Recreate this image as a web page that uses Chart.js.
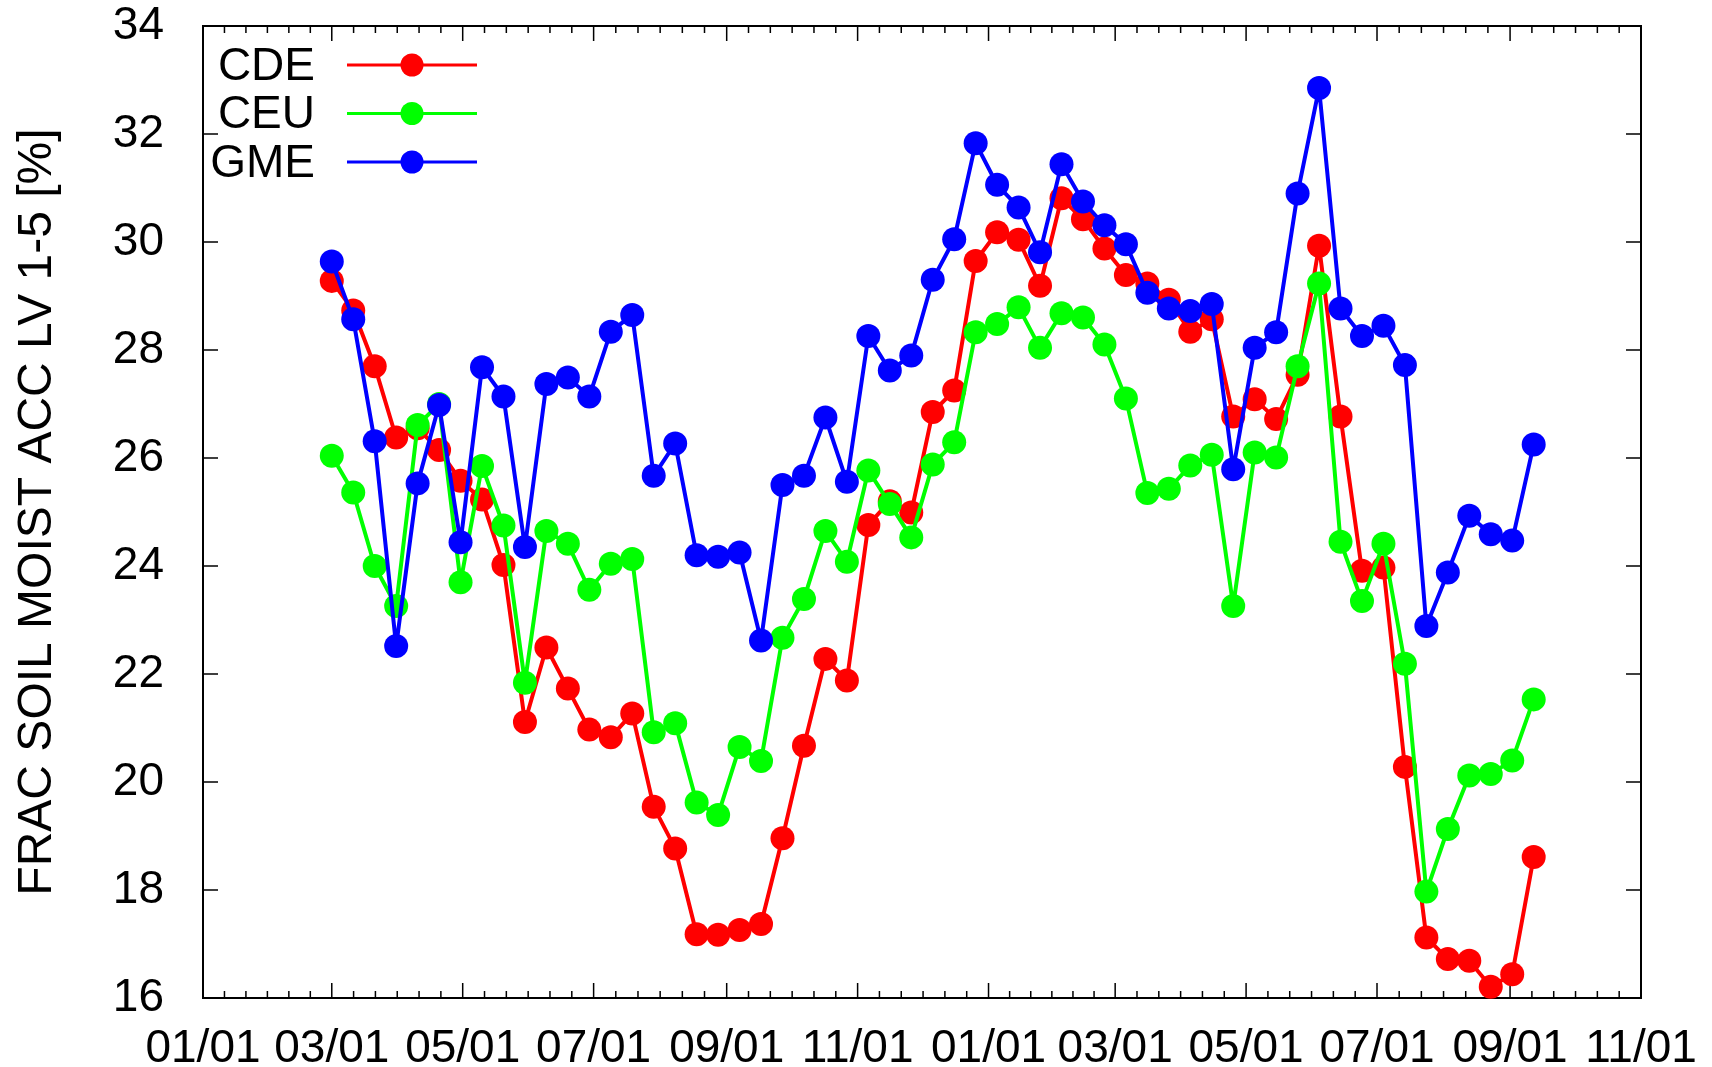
<!DOCTYPE html>
<html>
<head>
<meta charset="utf-8">
<script src="https://cdn.jsdelivr.net/npm/chart.js@4.4.1/dist/chart.umd.min.js"></script>
<style>
    html, body { margin: 0; padding: 0; background: #fff; }
</style>
</head>
<body>
<canvas id="soilChart" width="1712" height="1067"></canvas>
<script>
// 観測日（1月1日からの日数）
const days = [60, 70, 80, 90, 100, 110, 120, 130, 140, 150,
    160, 170, 180, 190, 200, 210, 220, 230, 240, 250,
    260, 270, 280, 290, 300, 310, 320, 330, 340, 350,
    360, 370, 380, 390, 400, 410, 420, 430, 440, 450,
    460, 470, 480, 490, 500, 510, 520, 530, 540, 550,
    560, 570, 580, 590, 600, 610, 620];

// 目盛り（月初）
const tickDays = [0, 60, 121, 182, 244, 305, 366, 425, 486, 547, 609, 670];
const tickLabels = ['01/01', '03/01', '05/01', '07/01', '09/01', '11/01',
    '01/01', '03/01', '05/01', '07/01', '09/01', '11/01'];

// 各モデルの値 [%]
const cde = [29.28, 28.73, 27.70, 26.38, 26.55, 26.15, 25.58, 25.23, 24.02, 21.11,
    22.49, 21.73, 20.97, 20.83, 21.27, 19.54, 18.77, 17.18, 17.17, 17.26,
    17.37, 18.96, 20.67, 22.28, 21.88, 24.76, 25.20, 24.99, 26.85, 27.25,
    29.65, 30.18, 30.04, 29.19, 30.81, 30.42, 29.88, 29.39, 29.23, 28.93,
    28.34, 28.57, 26.77, 27.09, 26.72, 27.54, 29.93, 26.77, 23.91, 23.97,
    20.28, 17.12, 16.72, 16.69, 16.21, 16.44, 18.61];
const ceu = [26.04, 25.36, 24.00, 23.26, 26.61, 27.00, 23.70, 25.85, 24.75, 21.84,
    24.65, 24.41, 23.56, 24.04, 24.13, 20.92, 21.09, 19.62, 19.39, 20.65,
    20.39, 22.67, 23.39, 24.65, 24.08, 25.77, 25.15, 24.53, 25.88, 26.29,
    28.33, 28.48, 28.79, 28.04, 28.68, 28.60, 28.10, 27.10, 25.35, 25.43,
    25.86, 26.06, 23.26, 26.10, 26.01, 27.70, 29.23, 24.45, 23.35, 24.41,
    22.19, 17.97, 19.13, 20.12, 20.15, 20.40, 21.53];
const gme = [29.64, 28.57, 26.31, 22.52, 25.53, 26.98, 24.44, 27.68, 27.14, 24.35,
    27.37, 27.49, 27.14, 28.34, 28.65, 25.67, 26.27, 24.20, 24.17, 24.25,
    22.62, 25.50, 25.67, 26.75, 25.56, 28.26, 27.62, 27.90, 29.30, 30.05,
    31.83, 31.06, 30.64, 29.81, 31.44, 30.75, 30.31, 29.96, 29.06, 28.77,
    28.72, 28.85, 25.79, 28.04, 28.33, 30.90, 32.85, 28.77, 28.26, 28.45,
    27.72, 22.89, 23.88, 24.93, 24.59, 24.47, 26.25];

const fontFamily = '"Liberation Sans", Arial, Helvetica, sans-serif';
const bigFont = { family: fontFamily, size: 46 };

function toPoints(values) {
    return values.map((v, i) => ({ x: days[i], y: v }));
}

function series(label, values, color, order) {
    return {
        label: label,
        data: toPoints(values),
        borderColor: color,
        backgroundColor: color,
        borderWidth: 4,
        borderJoinStyle: 'round',
        borderCapStyle: 'round',
        pointRadius: 12,
        pointHoverRadius: 12,
        pointBorderWidth: 0,
        tension: 0,
        clip: false,
        order: order
    };
}

// 枠と内向きの目盛り
const frameTicks = {
    id: 'frameTicks',
    beforeDatasetsDraw(chart) {
        const { ctx, chartArea: a, scales: { x, y } } = chart;
        ctx.save();
        ctx.strokeStyle = '#000';
        ctx.lineWidth = 1.5;
        ctx.beginPath();
        y.ticks.forEach(t => {
            const py = y.getPixelForValue(t.value);
            ctx.moveTo(a.left, py);
            ctx.lineTo(a.left + 15, py);
            ctx.moveTo(a.right, py);
            ctx.lineTo(a.right - 15, py);
        });
        tickDays.forEach((d, i) => {
            const px = x.getPixelForValue(d);
            ctx.moveTo(px, a.bottom);
            ctx.lineTo(px, a.bottom - 15);
            ctx.moveTo(px, a.top);
            ctx.lineTo(px, a.top + 15);
            if (i < tickDays.length - 1) {
                const step = (tickDays[i + 1] - d) / 6;
                for (let k = 1; k < 6; k++) {
                    const mx = x.getPixelForValue(d + step * k);
                    ctx.moveTo(mx, a.bottom);
                    ctx.lineTo(mx, a.bottom - 7);
                    ctx.moveTo(mx, a.top);
                    ctx.lineTo(mx, a.top + 7);
                }
            }
        });
        ctx.stroke();
        ctx.lineWidth = 2;
        ctx.strokeRect(a.left, a.top, a.right - a.left, a.bottom - a.top);
        ctx.restore();
    }
};

// 凡例（左上）
const insideLegend = {
    id: 'insideLegend',
    afterDatasetsDraw(chart) {
        const { ctx, chartArea: a } = chart;
        const sets = chart.data.datasets;
        ctx.save();
        ctx.font = '46px ' + fontFamily;
        ctx.textAlign = 'right';
        ctx.textBaseline = 'middle';
        sets.forEach((ds, i) => {
            const rowY = a.top + 39 + i * 48.5;
            ctx.fillStyle = '#000';
            ctx.fillText(ds.label, a.left + 112, rowY + 2);
            ctx.strokeStyle = ds.borderColor;
            ctx.lineWidth = 3;
            ctx.beginPath();
            ctx.moveTo(a.left + 144, rowY);
            ctx.lineTo(a.left + 274, rowY);
            ctx.stroke();
            ctx.fillStyle = ds.borderColor;
            ctx.beginPath();
            ctx.arc(a.left + 209, rowY, 11.5, 0, Math.PI * 2);
            ctx.fill();
        });
        ctx.restore();
    }
};

const soilChart = new Chart(
    document.getElementById('soilChart'),
    {
        type: 'line',
        data: {
            datasets: [
                series('CDE', cde, '#ff0000', 3),
                series('CEU', ceu, '#00ff00', 2),
                series('GME', gme, '#0000ff', 1)
            ]
        },
        options: {
            responsive: false,
            animation: false,
            layout: { padding: { top: 26, right: 71, left: 0, bottom: 0 } },
            plugins: {
                legend: { display: false },
                tooltip: { enabled: false }
            },
            scales: {
                x: {
                    type: 'linear',
                    min: 0,
                    max: 670,
                    afterBuildTicks: scale => {
                        scale.ticks = tickDays.map(v => ({ value: v }));
                    },
                    afterFit: scale => {
                        scale.height = 69;
                        scale.paddingLeft = 0;
                        scale.paddingRight = 0;
                    },
                    grid: { display: false },
                    border: { display: false },
                    ticks: {
                        autoSkip: false,
                        maxRotation: 0,
                        padding: 16,
                        color: '#000',
                        font: bigFont,
                        callback: (value, index) => tickLabels[index]
                    }
                },
                y: {
                    min: 16,
                    max: 34,
                    afterFit: scale => {
                        scale.width = 203;
                        scale.paddingTop = 0;
                        scale.paddingBottom = 0;
                    },
                    grid: { display: false },
                    border: { display: false },
                    ticks: {
                        stepSize: 2,
                        padding: 31,
                        color: '#000',
                        font: { family: fontFamily, size: 46, lineHeight: 1 }
                    },
                    title: {
                        display: true,
                        text: 'FRAC SOIL MOIST ACC LV 1-5 [%]',
                        color: '#000',
                        font: { family: fontFamily, size: 48 },
                        padding: { top: 9, bottom: 0 }
                    }
                }
            }
        },
        plugins: [frameTicks, insideLegend]
    }
);
</script>
</body>
</html>
